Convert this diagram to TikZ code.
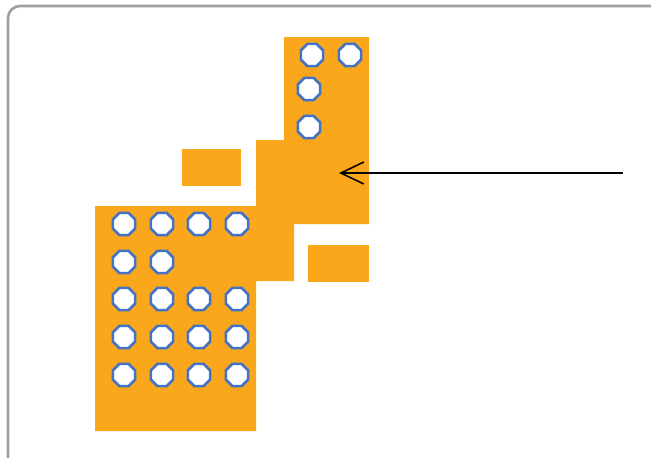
\documentclass[tikz,border=0pt]{standalone}
\usetikzlibrary{shapes.geometric,arrows.meta}
\definecolor{padorange}{RGB}{250,167,27}
\definecolor{viablue}{RGB}{68,114,196}
\definecolor{framegray}{RGB}{160,160,160}
\begin{document}
\begin{tikzpicture}[x=0.02cm,y=-0.02cm,
  via/.style={regular polygon,regular polygon sides=8,draw=viablue,fill=white,
    line width=1.5pt,minimum size=0.48cm,inner sep=0pt},
  pad/.style={fill=padorange}]
  \useasboundingbox (0,0) rectangle (651,457);
  \draw[framegray,line width=1.5pt,rounded corners=0.24cm] (8,6) rectangle (690,490);
  \fill[pad] (95,206) -- (256,206) -- (256,140) -- (284,140) -- (284,37) -- (369,37)
    -- (369,224) -- (294,224) -- (294,281) -- (256,281) -- (256,431) -- (95,431) -- cycle;
  \fill[pad] (182,149) rectangle (241,186);
  \fill[pad] (308,245) rectangle (369,282);
  \node[via] (t1) at (312,55) {};
  \node[via] (t2) at (350,55) {};
  \node[via] (t3) at (309,89) {};
  \node[via] (t4) at (309,127) {};
  \foreach \yy/\rr in {224/1,299/3,337/4,375/5}{
    \foreach \xx/\cc in {124/1,162/2,199/3,237/4}{
      \node[via] (v\rr\cc) at (\xx,\yy) {};
    }
  }
  \node[via] (v21) at (124,262) {};
  \node[via] (v22) at (162,262) {};
  \coordinate (tail) at (623,173);
  \coordinate (tip) at (339,173);
  \draw[-{Straight Barb[length=0.46cm,width=0.44cm]},line width=0.9pt] (tail) -- (tip);
\end{tikzpicture}
\end{document}
